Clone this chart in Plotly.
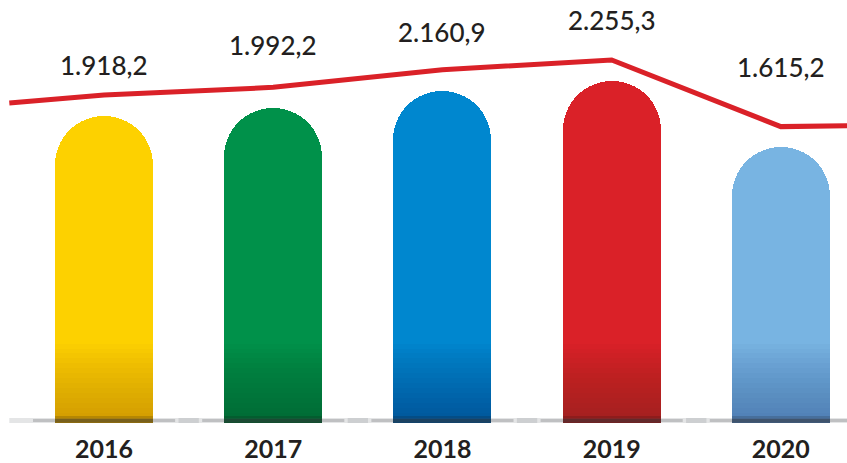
import plotly.graph_objects as go

# ---- data ----
years = ["2016", "2017", "2018", "2019", "2020"]
values = [1918.2, 1992.2, 2160.9, 2255.3, 1615.2]
labels = ["1.918,2", "1.992,2", "2.160,9", "2.255,3", "1.615,2"]
bar_colors = ["#FDD100", "#00914A", "#0087CF", "#DA2128", "#78B4E2"]
# values where the decorative red line leaves the left / right edge
line_edge_values = [1842, 1625]

# ---- style constants ----
shade_rgb = ["170,100,20", "0,60,35", "0,30,90", "110,30,45", "20,50,130"]

W, H = 847, 463
MB = 37
PLOT_H = H - MB
PX_PER_UNIT = 0.1049
Y_MIN = -1030.0
Y_MAX = Y_MIN + PLOT_H / PX_PER_UNIT
LINE_SHIFT = 21 / PX_PER_UNIT      # line floats ~21px above bar tops
HIDDEN_BASE = Y_MIN - 120 / PX_PER_UNIT   # hide lower rounding below the plot
X_RANGE = [-0.615, 4.391]
BAR_W = 0.579
xs = list(range(len(years)))

fig = go.Figure()

# main bars
fig.add_trace(go.Bar(
    x=xs, y=[v - HIDDEN_BASE for v in values], base=HIDDEN_BASE, width=BAR_W,
    marker=dict(color=bar_colors, cornerradius="50%", line=dict(width=0)),
    hoverinfo="skip", showlegend=False,
))

# bottom gradient (stacked translucent layers)
N, STEP_PX, ALPHA = 16, 5, 0.031
for k in range(1, N + 1):
    fig.add_trace(go.Bar(
        x=xs, y=[k * STEP_PX / PX_PER_UNIT] * len(xs), base=Y_MIN, width=BAR_W,
        marker=dict(color=[f"rgba({s},{ALPHA})" for s in shade_rgb],
                    cornerradius=0, line=dict(width=0)),
        hoverinfo="skip", showlegend=False,
    ))
for h_px, a in [(7, 0.16), (4, 0.2)]:
    fig.add_trace(go.Bar(
        x=xs, y=[h_px / PX_PER_UNIT] * len(xs), base=Y_MIN, width=BAR_W,
        marker=dict(color=f"rgba(20,15,10,{a})", cornerradius=0, line=dict(width=0)),
        hoverinfo="skip", showlegend=False,
    ))

# ground shadows
for half, wdt, col in [(0.56, 5, "rgba(90,95,100,0.16)"), (0.42, 3, "rgba(60,65,70,0.22)")]:
    sx, sy = [], []
    for c in xs:
        sx += [c - half, c + half, None]
        sy += [Y_MIN + 2.5 / PX_PER_UNIT] * 2 + [None]
    fig.add_trace(go.Scatter(x=sx, y=sy, mode="lines",
                             line=dict(color=col, width=wdt),
                             hoverinfo="skip", showlegend=False))

# red line (second axis, shifted upward)
lx = [X_RANGE[0] + 0.055] + xs + [X_RANGE[1] + 0.05]
ly = [line_edge_values[0]] + values + [line_edge_values[1]]
fig.add_trace(go.Scatter(
    x=lx, y=ly, mode="lines", yaxis="y2",
    line=dict(color="#DA2128", width=5),
    hoverinfo="skip", showlegend=False,
))

# value labels
label_shift = [30, 42, 38, 40, 60]
for c, v, t, s in zip(xs, values, labels, label_shift):
    fig.add_annotation(x=c, y=v, xref="x", yref="y2", text=t, showarrow=False,
                       yshift=s, yanchor="middle",
                       font=dict(family="Lato", size=26, color="#231F20", weight=500))

fig.update_layout(
    width=W, height=H,
    margin=dict(l=0, r=0, t=0, b=MB),
    paper_bgcolor="white", plot_bgcolor="white",
    barmode="overlay", bargap=0,
    xaxis=dict(range=X_RANGE, tickvals=xs, ticktext=years,
               showgrid=False, zeroline=False, showline=False,
               ticks="outside", ticklen=4, tickcolor="rgba(0,0,0,0)",
               tickfont=dict(family="Lato", size=25, color="#231F20", weight=700)),
    yaxis=dict(range=[Y_MIN, Y_MAX], visible=False, showgrid=False, zeroline=False),
    yaxis2=dict(range=[Y_MIN - LINE_SHIFT, Y_MAX - LINE_SHIFT], overlaying="y",
                visible=False, showgrid=False, zeroline=False),
)

fig.write_html("out.html",
               config={"displayModeBar": False},
               post_script="document.body.style.margin='0';document.body.style.overflow='hidden';")
